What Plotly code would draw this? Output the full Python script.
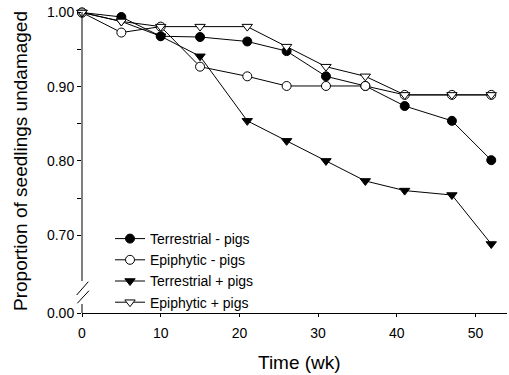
import plotly.graph_objects as go

weeks = [0, 5, 10, 15, 21, 26, 31, 36, 41, 47, 52]
terrestrial_minus = [1.00, 0.994, 0.968, 0.967, 0.961, 0.948, 0.914, 0.901, 0.874, 0.854, 0.801]
epiphytic_minus = [1.00, 0.973, 0.981, 0.927, 0.914, 0.901, 0.901, 0.901, 0.889, 0.889, 0.889]
terrestrial_plus = [1.00, 0.988, 0.968, 0.941, 0.854, 0.827, 0.800, 0.773, 0.760, 0.754, 0.688]
epiphytic_plus = [1.00, 0.988, 0.981, 0.981, 0.981, 0.954, 0.927, 0.914, 0.889, 0.889, 0.889]

series_names = ["Terrestrial - pigs", "Epiphytic - pigs", "Terrestrial + pigs", "Epiphytic + pigs"]
x_ticks = [0, 10, 20, 30, 40, 50]
y_tick_labels = ["0.00", "0.70", "", "0.80", "", "0.90", "", "1.00"]
y_tick_values = [0.70, 0.75, 0.80, 0.85, 0.90, 0.95, 1.00]
Y_BREAK_BOTTOM = 0.595  # axis position drawn as 0.00 below the break

FONT = "Liberation Sans, Arial, Helvetica, sans-serif"

styles = [
    dict(symbol="circle", size=9, color="black", line=dict(color="black", width=1)),
    dict(symbol="circle", size=9, color="white", line=dict(color="black", width=1)),
    dict(symbol="triangle-down", size=9, color="black", line=dict(color="black", width=1)),
    dict(symbol="triangle-down", size=9, color="white", line=dict(color="black", width=1)),
]
data = [terrestrial_minus, epiphytic_minus, terrestrial_plus, epiphytic_plus]

fig = go.Figure()
for name, vals, st in zip(series_names, data, styles):
    fig.add_trace(go.Scatter(
        x=weeks, y=vals, name=name, mode="lines+markers",
        line=dict(color="black", width=1),
        marker=st, cliponaxis=False,
    ))

W, H = 509, 375
L, R, T, B = 82, 2, 10, 62
pw, ph = W - L - R, H - T - B


def px(xp):
    return (xp - L) / pw


def py(yp):
    return (H - B - yp) / ph


shapes = [
    # y-axis line segments with break
    dict(type="line", xref="paper", yref="paper", x0=0, x1=0, y0=py(12), y1=py(281),
         line=dict(color="black", width=1)),
    dict(type="line", xref="paper", yref="paper", x0=0, x1=0, y0=py(304), y1=0,
         line=dict(color="black", width=1)),
    dict(type="line", xref="paper", yref="paper", x0=px(76.7), x1=px(88.3), y0=py(295), y1=py(281.7),
         line=dict(color="black", width=1)),
    dict(type="line", xref="paper", yref="paper", x0=px(77.3), x1=px(89), y0=py(303.3), y1=py(290.7),
         line=dict(color="black", width=1)),
]

annotations = [
    dict(text="Proportion of seedlings undamaged", xref="paper", yref="paper",
         x=px(20), y=py(161), textangle=-90, showarrow=False,
         xanchor="center", yanchor="middle", font=dict(family=FONT, size=19, color="black")),
    dict(text="Time (wk)", xref="paper", yref="paper",
         x=px(299), y=py(362), showarrow=False,
         xanchor="center", yanchor="middle", font=dict(family=FONT, size=19, color="black")),
]

fig.update_layout(
    width=W, height=H,
    margin=dict(l=L, r=R, t=T, b=B, pad=0),
    paper_bgcolor="white", plot_bgcolor="white",
    font=dict(family=FONT, size=14, color="black"),
    showlegend=True,
    legend=dict(x=px(110), y=py(223), xanchor="left", yanchor="top",
                bgcolor="rgba(0,0,0,0)", borderwidth=0,
                font=dict(family=FONT, size=14, color="black"),
                tracegroupgap=0),
    shapes=shapes,
    annotations=annotations,
)
fig.update_xaxes(
    range=[0, 54], showgrid=False, zeroline=False,
    showline=True, linecolor="black", linewidth=1,
    tickvals=x_ticks, ticks="outside", ticklen=3, tickcolor="black",
    tickfont=dict(family=FONT, size=14), ticklabelstandoff=4,
)
fig.update_yaxes(
    range=[Y_BREAK_BOTTOM, 1.0034], showgrid=False, zeroline=False,
    showline=False,
    tickvals=[Y_BREAK_BOTTOM] + y_tick_values, ticktext=y_tick_labels,
    ticks="outside", ticklen=4, tickcolor="black",
    tickfont=dict(family=FONT, size=14),
)

fig.write_html("out.html", config={"displayModeBar": False},
               post_script="document.body.style.margin='0px';")
